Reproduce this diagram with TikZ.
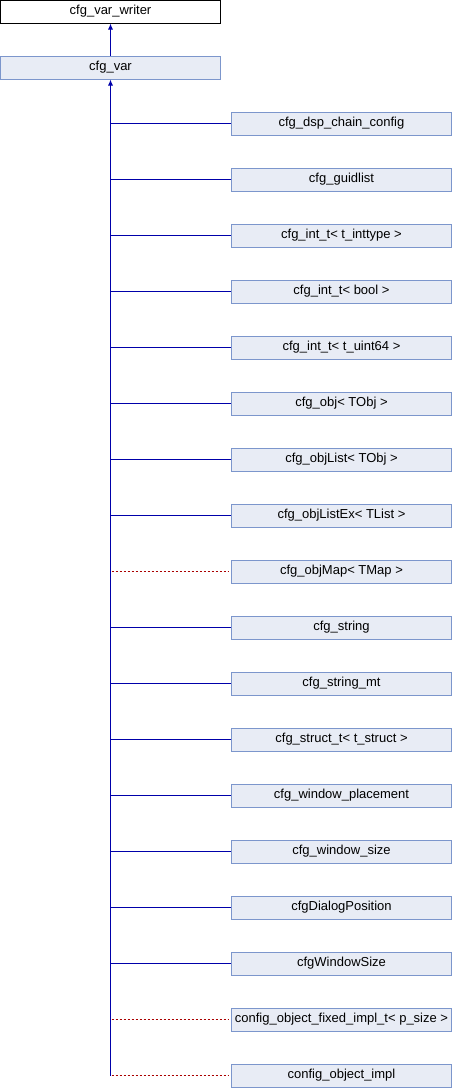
\documentclass[tikz,border=0pt]{standalone}
\usepackage{fontspec}
\setmainfont{Liberation Sans}
\usetikzlibrary{arrows.meta}
\definecolor{boxfill}{RGB}{232,236,245}
\definecolor{boxline}{RGB}{124,150,204}
\definecolor{inhblue}{RGB}{0,0,170}
\definecolor{tmplred}{RGB}{170,0,0}
\tikzset{
  cls/.style={draw=boxline, fill=boxfill, line width=1pt, minimum width=220pt, minimum height=23pt, inner sep=0pt, font=\fontsize{13}{15}\selectfont},
  rootcls/.style={draw=black, fill=white, line width=1pt, minimum width=220pt, minimum height=23pt, inner sep=0pt, font=\fontsize{13}{15}\selectfont},
  inh/.style={draw=inhblue, line width=1pt},
  inharrow/.style={draw=inhblue, line width=1pt, -{Latex[length=6pt,width=5pt]}},
  tmpl/.style={draw=tmplred, line width=1pt, dash pattern=on 2.5pt off 1.5pt}
}
\begin{document}
\begin{tikzpicture}[x=1pt,y=-1pt]
\useasboundingbox (0,0) rectangle (452,1088);
\node[rootcls] (writer) at (110.5,11.5) {cfg\_var\_writer};
\node[cls] (var) at (110.5,67.5) {cfg\_var};
\foreach \i/\name/\txt in {
 0/c0/{cfg\_dsp\_chain\_config},
 1/c1/{cfg\_guidlist},
 2/c2/{cfg\_int\_t< t\_inttype >},
 3/c3/{cfg\_int\_t< bool >},
 4/c4/{cfg\_int\_t< t\_uint64 >},
 5/c5/{cfg\_obj< TObj >},
 6/c6/{cfg\_objList< TObj >},
 7/c7/{cfg\_objListEx< TList >},
 8/c8/{cfg\_objMap< TMap >},
 9/c9/{cfg\_string},
 10/c10/{cfg\_string\_mt},
 11/c11/{cfg\_struct\_t< t\_struct >},
 12/c12/{cfg\_window\_placement},
 13/c13/{cfg\_window\_size},
 14/c14/{cfgDialogPosition},
 15/c15/{cfgWindowSize},
 16/c16/{config\_object\_fixed\_impl\_t< p\_size >},
 17/c17/{config\_object\_impl}}{
  \node[cls] (\name) at (341.5,{123.5+56*\i}) {\txt};
  \coordinate (j\name) at (110,{123.5+56*\i});
}
\draw[inh] (jc0) -- (c0.west) (jc1) -- (c1.west) (jc2) -- (c2.west)
  (jc3) -- (c3.west) (jc4) -- (c4.west) (jc5) -- (c5.west)
  (jc6) -- (c6.west) (jc7) -- (c7.west) (jc9) -- (c9.west)
  (jc10) -- (c10.west) (jc11) -- (c11.west) (jc12) -- (c12.west)
  (jc13) -- (c13.west) (jc14) -- (c14.west) (jc15) -- (c15.west);
\foreach \n in {c8,c16,c17}
  \draw[tmpl] ([xshift=1.5pt]j\n) -- ([xshift=-2pt]\n.west);
\draw[inharrow] (var.north) -- (writer.south);
\coordinate (bot) at (110.5,1076);
\draw[inharrow] (bot) -- (var.south);
\end{tikzpicture}
\end{document}
